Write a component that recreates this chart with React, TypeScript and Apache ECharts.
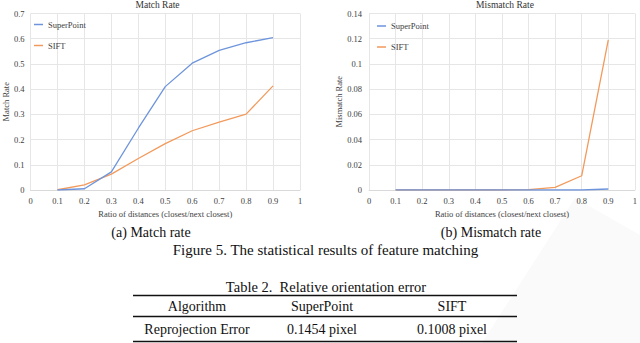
import React, { useEffect, useRef } from "react";
import * as echarts from "echarts";

const ratios = [0.1, 0.2, 0.3, 0.4, 0.5, 0.6, 0.7, 0.8, 0.9];
const matchSuperPoint = [0, 0.005, 0.072, 0.245, 0.41, 0.503, 0.554, 0.584, 0.604];
const matchSIFT = [0.001, 0.02, 0.063, 0.125, 0.184, 0.235, 0.269, 0.301, 0.413];
const mismatchSuperPoint = [0, 0, 0, 0, 0, 0, 0, 0, 0.0008];
const mismatchSIFT = [0, 0, 0, 0, 0, 0.0003, 0.0021, 0.0113, 0.119];
const seriesNames = ["SuperPoint", "SIFT"];
const chartTitles = ["Match Rate", "Mismatch Rate"];
const xAxisName = "Ratio of distances (closest/next closest)";
const subCaptions = ["(a) Match rate", "(b) Mismatch rate"];
const figureCaption = "Figure 5. The statistical results of feature matching";
const tableCaption = "Table 2.  Relative orientation error";
const tableHeader = ["Algorithm", "SuperPoint", "SIFT"];
const tableRow = ["Reprojection Error", "0.1454 pixel", "0.1008 pixel"];

const FONT = "'Liberation Serif', 'Times New Roman', serif";
const BLUE = "#6e95dc";
const ORANGE = "#f29a5c";
const GRID = "#e6e6e6";
const TXT = "#404040";

function pairs(vals: number[]) {
  return ratios.map((x, i) => [x, vals[i]]);
}

export default function App() {
  const ref = useRef<HTMLDivElement>(null);
  useEffect(() => {
    if (!ref.current) return;
    const chart = echarts.init(ref.current, undefined, { renderer: "svg" });

    const xAxisCfg = (gridIndex: number) => ({
      type: "value",
      gridIndex,
      min: 0,
      max: 1,
      interval: 0.1,
      name: xAxisName,
      nameLocation: "middle",
      nameGap: 15,
      nameTextStyle: { fontFamily: FONT, fontSize: 8.5, color: TXT },
      axisLine: { show: true, lineStyle: { color: "#d9d9d9", width: 1 } },
      axisTick: { show: false },
      axisLabel: { fontFamily: FONT, fontSize: 8.5, color: TXT, margin: 6 },
      splitLine: { show: true, lineStyle: { color: GRID, width: 1 } },
    });
    const yAxisCfg = (gridIndex: number, max: number, interval: number, name: string, nameGap: number, margin: number) => ({
      type: "value",
      gridIndex,
      min: 0,
      max,
      interval,
      name,
      nameLocation: "middle",
      nameGap,
      nameTextStyle: { fontFamily: FONT, fontSize: 8.5, color: TXT },
      axisLine: { show: false },
      axisTick: { show: false },
      axisLabel: { fontFamily: FONT, fontSize: 8.5, color: TXT, margin },
      splitLine: { show: true, lineStyle: { color: GRID, width: 1 } },
    });
    const lineSeries = (name: string, vals: number[], idx: number, color: string) => ({
      type: "line",
      name,
      xAxisIndex: idx,
      yAxisIndex: idx,
      data: pairs(vals),
      symbol: "none",
      lineStyle: { color, width: 1.3 },
      itemStyle: { color },
      z: name === "SIFT" ? 2 : 3,
    });
    const legendCfg = (left: number, top: number) => ({
      orient: "vertical",
      left,
      top,
      padding: 0,
      icon: "rect",
      itemWidth: 9,
      itemHeight: 1.5,
      itemGap: 12,
      data: seriesNames,
      textStyle: { fontFamily: FONT, fontSize: 8.5, color: TXT },
      selectedMode: false,
    });

    const text = (x: number, y: number, t: string, size: number, color = "#111") => ({
      type: "text",
      x,
      y,
      style: { text: t, fontFamily: FONT, fontSize: size, fill: color, align: "center", verticalAlign: "middle" },
    });
    const hline = (y: number) => ({
      type: "line",
      shape: { x1: 133, y1: y, x2: 517, y2: y },
      style: { stroke: "#111", lineWidth: 1.6 },
    });
    const colX = [197, 322, 452];

    chart.setOption({
      animation: false,
      backgroundColor: "#fff",
      textStyle: { fontFamily: FONT },
      grid: [
        { left: 24.5, top: 13.5, width: 275.5, height: 176.5 },
        { left: 369, top: 13.5, width: 270, height: 176.5 },
      ],
      xAxis: [xAxisCfg(0), xAxisCfg(1)],
      yAxis: [
        yAxisCfg(0, 0.7, 0.1, chartTitles[0], 16, 6),
        yAxisCfg(1, 0.14, 0.02, chartTitles[1], 21.5, 7),
      ],
      legend: [legendCfg(34, 20), legendCfg(377, 21.5)],
      series: [
        lineSeries(seriesNames[0], matchSuperPoint, 0, BLUE),
        lineSeries(seriesNames[1], matchSIFT, 0, ORANGE),
        lineSeries(seriesNames[0], mismatchSuperPoint, 1, BLUE),
        lineSeries(seriesNames[1], mismatchSIFT, 1, ORANGE),
      ],
      graphic: [
        {
          type: "polygon",
          z: -10,
          shape: { points: [[575, 198], [640, 235], [640, 343], [482, 343]] },
          style: { fill: "#fafafa" },
        },
        text(157.5, 4.5, chartTitles[0], 9.5, "#333"),
        text(505, 4.5, chartTitles[1], 9.5, "#333"),
        text(151, 232.5, subCaptions[0], 14),
        text(491, 232.5, subCaptions[1], 14),
        text(325.5, 250, figureCaption, 15),
        text(326, 287, tableCaption, 14.5),
        hline(295.5),
        hline(316.5),
        hline(341.5),
        ...tableHeader.map((t, i) => text(colX[i], 306.5, t, 14)),
        ...tableRow.map((t, i) => text(colX[i], 329.5, t, 14)),
      ],
    });
    return () => chart.dispose();
  }, []);
  return (
    <div
      ref={ref}
      style={{ position: "fixed", left: 0, top: 0, width: 640, height: 343, background: "#fff" }}
    />
  );
}
